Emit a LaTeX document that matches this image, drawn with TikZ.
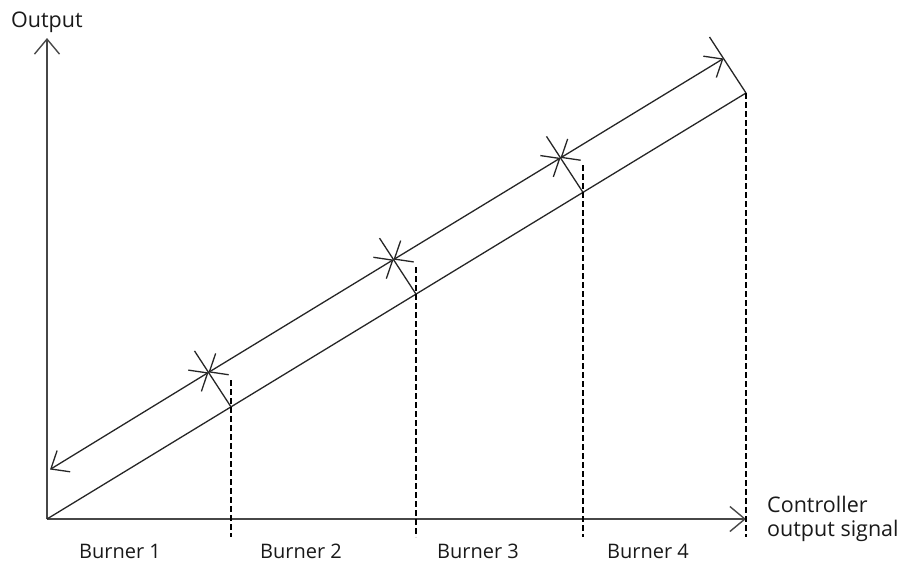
\documentclass[tikz,border=0pt]{standalone}
\usepackage{fontspec}
\setmainfont{Open Sans}
\usetikzlibrary{arrows.meta,calc}
\begin{document}
\begin{tikzpicture}[x=1pt,y=-1pt,
  barb/.tip={Straight Barb[length=15pt,width=25pt]},
  ax/.style={line width=1.4pt, draw=black!72, -barb},
  ln/.style={line width=1.3pt, draw=black!85},
  dbl/.style={ln, barb-barb},
  dsh/.style={line width=2.8pt, draw=black, dash pattern=on 6pt off 3pt},
  lbl/.style={font=\fontsize{21.5}{25}\selectfont, inner sep=0pt, anchor=base, text=black!90},
  blbl/.style={lbl, font=\fontsize{20}{24}\selectfont}]
\useasboundingbox (0,0) rectangle (907,563);
% key points
\coordinate (O) at (47,519);
\coordinate (Ytop) at (47,38);
\coordinate (Xend) at (746,519);
\coordinate (Q1) at (231,406.9);
\coordinate (Q2) at (416,294.1);
\coordinate (Q3) at (583,192.4);
\coordinate (Q4) at (746,93.0);
\coordinate (P1) at ($(Q1)+(-22.5,-34.5)$);
\coordinate (P2) at ($(Q2)+(-22.5,-34.5)$);
\coordinate (P3) at ($(Q3)+(-22.5,-34.5)$);
\coordinate (P4) at ($(Q4)+(-22.5,-34.5)$);
\coordinate (E1) at ($(P1)+(-14,-21.5)$);
\coordinate (E2) at ($(P2)+(-14,-21.5)$);
\coordinate (E3) at ($(P3)+(-14,-21.5)$);
\coordinate (E4) at ($(P4)+(-14,-21.5)$);
\coordinate (A0) at (50,469.5);
\coordinate (D1) at (231,380);
\coordinate (D2) at (416,267);
\coordinate (D3) at (583,165);
\coordinate (B1) at (231,537);
\coordinate (B2) at (416,537);
\coordinate (B3) at (583,537);
\coordinate (B4) at (746,537);
% axes
\draw[ax] (O) -- (Ytop);
\draw[ax] (O) -- (Xend);
% lower line
\draw[ln] (O) -- (Q4);
% upper line segments
\draw[dbl] (A0) -- (P1);
\draw[dbl] (P1) -- (P2);
\draw[dbl] (P2) -- (P3);
\draw[dbl] (P3) -- (P4);
% connectors
\draw[ln] (Q1) -- (E1);
\draw[ln] (Q2) -- (E2);
\draw[ln] (Q3) -- (E3);
\draw[ln] (Q4) -- (E4);
% dashed
\draw[dsh] (D1) -- (B1);
\draw[dsh] (D2) -- (B2);
\draw[dsh] (D3) -- (B3);
\draw[dsh] (Q4) -- (B4);
% labels
\node[lbl, anchor=base west] (out) at (11,27) {Output};
\node[lbl, anchor=base west] (ctl1) at (767,512) {Controller};
\node[lbl, anchor=base west] (ctl2) at (767,536) {output signal};
\node[blbl] (b1) at (120,558) {Burner 1};
\node[blbl] (b2) at (301,558) {Burner 2};
\node[blbl] (b3) at (478,558) {Burner 3};
\node[blbl] (b4) at (648,558) {Burner 4};
\end{tikzpicture}
\end{document}
